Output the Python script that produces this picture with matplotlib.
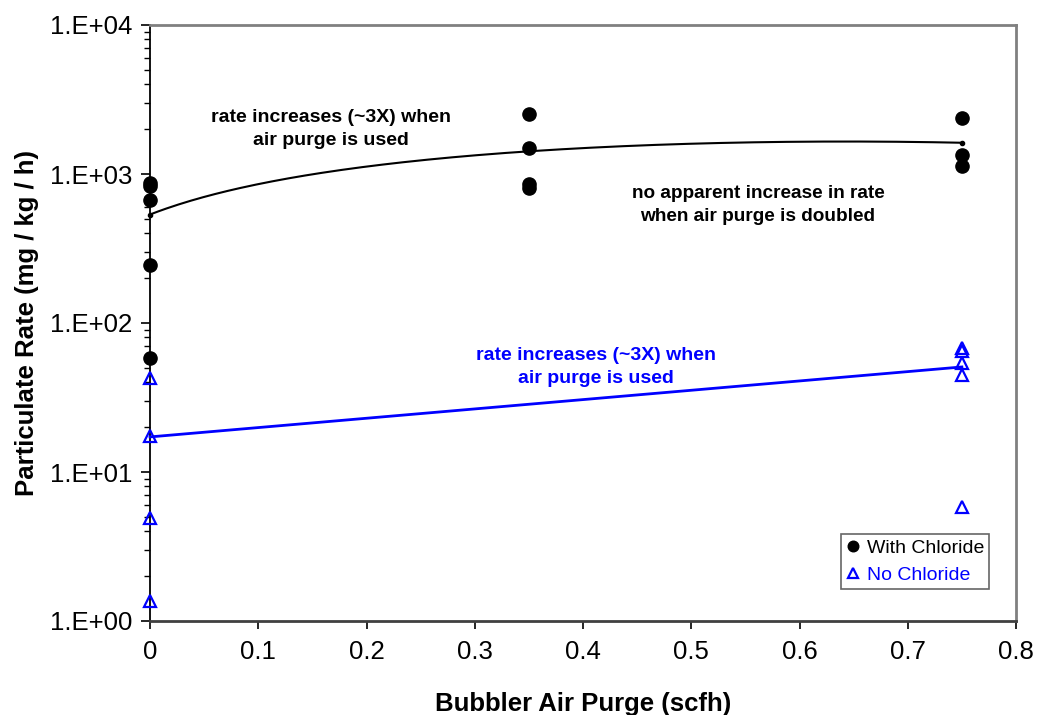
import numpy as np
import matplotlib
matplotlib.use("Agg")
import matplotlib.pyplot as plt
from matplotlib.ticker import FixedLocator, LogLocator, NullFormatter

plt.rcParams['font.family'] = ['Liberation Sans', 'DejaVu Sans']

# ---- data ----
chl_x = [0, 0, 0, 0, 0, 0.35, 0.35, 0.35, 0.35, 0.75, 0.75, 0.75]
chl_y = [871, 830, 669, 245, 58.5, 2529, 1487, 857, 806, 2388, 1342, 1132]

nochl_x = [0, 0, 0, 0, 0.75, 0.75, 0.75, 0.75, 0.75]
nochl_y = [43, 17.4, 4.94, 1.36, 68, 64.9, 53.9, 44.8, 5.85]

# exponential trend for "No Chloride" (end values)
nochl_fit_x = [0, 0.75]
nochl_fit_y = [17.2, 50.7]

x_ticks = [0, 0.1, 0.2, 0.3, 0.4, 0.5, 0.6, 0.7, 0.8]
x_tick_labels = ["0", "0.1", "0.2", "0.3", "0.4", "0.5", "0.6", "0.7", "0.8"]
y_ticks = [1, 10, 100, 1000, 10000]
y_tick_labels = ["1.E+00", "1.E+01", "1.E+02", "1.E+03", "1.E+04"]

# ---- figure ----
fig = plt.figure(figsize=(10.37, 7.15), dpi=100)
ax = fig.add_axes([150 / 1037, 1 - 621 / 715, (1016 - 150) / 1037, (621 - 25) / 715])
ax.set_yscale('log')
ax.set_xlim(0, 0.8)
ax.set_ylim(1, 10000)

# black polynomial (order 2) trend line from the With Chloride data
coef = np.polyfit(chl_x, chl_y, 2)
xs = np.linspace(min(chl_x), max(chl_x), 200)
ax.plot(xs, np.polyval(coef, xs), color='black', lw=1.5, zorder=3, clip_on=False)
ax.plot([xs[0], xs[-1]], [np.polyval(coef, xs[0]), np.polyval(coef, xs[-1])],
        ls='none', marker='o', ms=3, color='black', zorder=3, clip_on=False)

# blue trend line
ax.plot(nochl_fit_x, nochl_fit_y, color='#0000FF', lw=2, zorder=3, clip_on=False)

# data series
ax.plot(chl_x, chl_y, ls='none', marker='o', ms=9.5, color='black',
        label='With Chloride', zorder=4, clip_on=False)
ax.plot(nochl_x, nochl_y, ls='none', marker='^', ms=8.5, mfc='none', mec='#0000FF',
        mew=1.6, label='No Chloride', zorder=4, clip_on=False)

# axes styling
ax.yaxis.set_major_locator(FixedLocator(y_ticks))
ax.set_yticklabels(y_tick_labels)
ax.yaxis.set_minor_locator(LogLocator(base=10, subs=np.arange(2, 10)))
ax.yaxis.set_minor_formatter(NullFormatter())
ax.set_xticks(x_ticks)
ax.set_xticklabels(x_tick_labels)

ax.tick_params(axis='both', which='major', direction='out', width=1.2,
               labelsize=18.5, colors='black')
ax.tick_params(axis='x', which='major', length=6, pad=8)
ax.tick_params(axis='y', which='major', length=6.5, pad=6)
ax.tick_params(axis='y', which='minor', direction='out', length=4.3, width=1.0)
ax.tick_params(axis='x', which='minor', length=0)

ax.spines['left'].set_color('black')
ax.spines['left'].set_linewidth(1.3)
ax.spines['bottom'].set_color('#404040')
ax.spines['bottom'].set_linewidth(2)
for s in ['top', 'right']:
    ax.spines[s].set_color('#808080')
    ax.spines[s].set_linewidth(2)

ax.set_xlabel('Bubbler Air Purge (scfh)', fontsize=18.5, fontweight='bold', labelpad=20)
ax.set_ylabel('Particulate Rate (mg / kg / h)', fontsize=18.5, fontweight='bold', labelpad=8)

# annotations
ax.text(0.167, 2005, 'rate increases (~3X) when\nair purge is used', ha='center', va='center',
        fontsize=14, fontweight='bold', color='black', linespacing=1.42)
ax.text(0.5617, 620, 'no apparent increase in rate\nwhen air purge is doubled', ha='center', va='center',
        fontsize=13.7, fontweight='bold', color='black', linespacing=1.42)
ax.text(0.412, 50.7, 'rate increases (~3X) when\nair purge is used', ha='center', va='center',
        fontsize=14, fontweight='bold', color='#0000FF', linespacing=1.42)

leg = ax.legend(loc='lower right', bbox_to_anchor=((989 - 150) / 866, (621 - 589) / 596),
                fontsize=14, frameon=True, fancybox=False, edgecolor='#404040',
                handlelength=0.7, handletextpad=0.35, borderpad=0.25, labelspacing=0.5,
                borderaxespad=0, markerscale=0.8)
leg.get_frame().set_linewidth(1.2)
for t, c in zip(leg.get_texts(), ['black', '#0000FF']):
    t.set_color(c)

fig.savefig('out.png', dpi=100)
